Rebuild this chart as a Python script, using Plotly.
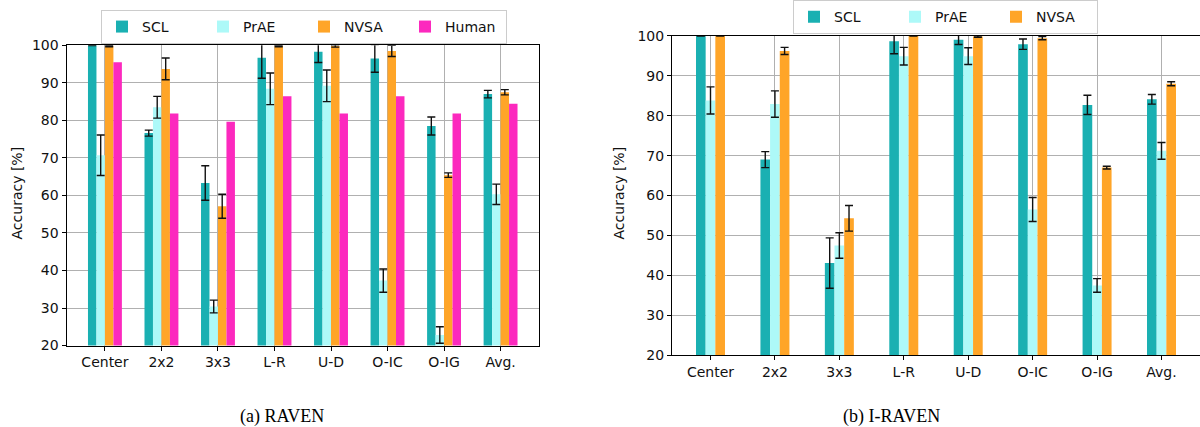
import plotly.graph_objects as go

# ---------------- data ----------------
categories = ["Center", "2x2", "3x3", "L-R", "U-D", "O-IC", "O-IG", "Avg."]

# (a) RAVEN
raven_scl = [100.0, 76.6, 63.3, 96.7, 98.3, 96.5, 78.5, 87.0]
raven_scl_err = [0.1, 0.8, 4.6, 5.5, 2.9, 3.7, 2.4, 1.0]
raven_prae = [70.7, 83.5, 30.4, 88.4, 89.2, 37.3, 22.8, 60.3]
raven_prae_err = [5.4, 2.9, 1.7, 4.2, 4.2, 3.1, 2.2, 2.7]
raven_nvsa = [99.8, 93.7, 57.1, 99.8, 99.8, 98.5, 65.4, 87.5]
raven_nvsa_err = [0.2, 2.9, 3.2, 0.2, 0.3, 1.5, 0.6, 0.7]
raven_human = [95.5, 81.8, 79.6, 86.4, 81.8, 86.4, 81.8, 84.4]

# (b) I-RAVEN
iraven_scl = [100.0, 69.0, 43.1, 98.6, 99.0, 97.9, 82.7, 84.1]
iraven_scl_err = [0.1, 2.0, 6.3, 3.1, 1.2, 1.3, 2.4, 1.2]
iraven_prae = [83.8, 82.9, 47.5, 94.9, 94.9, 56.5, 37.5, 71.2]
iraven_prae_err = [3.4, 3.3, 3.2, 2.2, 2.1, 3.0, 1.7, 2.1]
iraven_nvsa = [100.0, 96.2, 54.3, 100.0, 99.8, 99.4, 67.0, 88.0]
iraven_nvsa_err = [0.1, 0.9, 3.2, 0.1, 0.2, 0.4, 0.35, 0.5]

colors = {"SCL": "#1AB0B2", "PrAE": "#ADF9F8", "NVSA": "#FFA528", "Human": "#FC29BE"}

BAR_W = 0.15
FONT = "DejaVu Sans"

fig = go.Figure()


def add_group(series, xa, ya, legend_name):
    n = len(series)
    for k, (name, vals, errs) in enumerate(series):
        off = (k - n / 2) * BAR_W
        err = None
        if errs is not None:
            err = dict(type="data", array=errs, visible=True, color="#111111",
                       thickness=1.4, width=4)
        fig.add_trace(go.Bar(
            x=categories, y=vals, name=name, offset=off, width=BAR_W,
            marker=dict(color=colors[name], line=dict(width=0)),
            error_y=err, xaxis=xa, yaxis=ya, legend=legend_name,
            showlegend=True,
        ))


add_group([("SCL", raven_scl, raven_scl_err),
           ("PrAE", raven_prae, raven_prae_err),
           ("NVSA", raven_nvsa, raven_nvsa_err),
           ("Human", raven_human, None)], "x", "y", "legend")
add_group([("SCL", iraven_scl, iraven_scl_err),
           ("PrAE", iraven_prae, iraven_prae_err),
           ("NVSA", iraven_nvsa, iraven_nvsa_err)], "x2", "y2", "legend2")

W, H = 1200, 427


def px_x(p):
    return p / W


def px_y(p):
    return 1 - p / H


axis_common = dict(showgrid=True, gridcolor="#b0b0b0", gridwidth=1,
                   linecolor="black", linewidth=1, ticks="outside", ticklen=4,
                   tickcolor="black", tickfont=dict(family=FONT, size=14, color="#111111"),
                   zeroline=False, automargin=False)

legend_common = dict(orientation="h", xanchor="left", yanchor="top",
                     entrywidthmode="pixels", itemwidth=30,
                     bordercolor="#cccccc", borderwidth=1, bgcolor="white",
                     font=dict(family=FONT, size=14, color="#111111"))

fig.update_layout(
    width=W, height=H, autosize=False,
    margin=dict(l=0, r=0, t=0, b=0),
    plot_bgcolor="white", paper_bgcolor="white",
    barmode="overlay",
    font=dict(family=FONT, size=14, color="#111111"),
    xaxis=dict(domain=[px_x(66.5), px_x(539)], range=[-0.68, 7.68], mirror=True,
               type="category", anchor="y", **axis_common),
    yaxis=dict(domain=[px_y(344), px_y(38)], range=[20, 100], mirror=True,
               tickvals=[20, 30, 40, 50, 60, 70, 80, 90, 100], anchor="x", **axis_common),
    xaxis2=dict(domain=[px_x(672), 1.0], range=[-0.5975, 7.5975], mirror=True,
                type="category", anchor="y2", **axis_common),
    yaxis2=dict(domain=[px_y(354), px_y(28.3)], range=[20, 100], mirror=False,
                tickvals=[20, 30, 40, 50, 60, 70, 80, 90, 100], anchor="x2", **axis_common),
    legend=dict(x=px_x(101), y=px_y(2), entrywidth=56, **legend_common),
    legend2=dict(x=px_x(793), y=px_y(-8), entrywidth=56, **legend_common),
    annotations=[
        dict(text="Accuracy [%]", x=px_x(17), y=px_y(189), xref="paper", yref="paper",
             xanchor="center", yanchor="middle",
             showarrow=False, textangle=-90, font=dict(family=FONT, size=14, color="#111111")),
        dict(text="Accuracy [%]", x=px_x(619), y=px_y(189), xref="paper", yref="paper",
             xanchor="center", yanchor="middle",
             showarrow=False, textangle=-90, font=dict(family=FONT, size=14, color="#111111")),
        dict(text="(a) RAVEN", x=px_x(282), y=px_y(416), xref="paper", yref="paper",
             xanchor="center", yanchor="middle",
             showarrow=False, font=dict(family="Liberation Serif", size=18, color="black")),
        dict(text="(b) I-RAVEN", x=px_x(891), y=px_y(416), xref="paper", yref="paper",
             xanchor="center", yanchor="middle",
             showarrow=False, font=dict(family="Liberation Serif", size=18, color="black")),
    ],
)

fig.write_html("out.html", config={"displayModeBar": False},
               post_script="document.body.style.margin='0';document.body.style.overflow='hidden';")
